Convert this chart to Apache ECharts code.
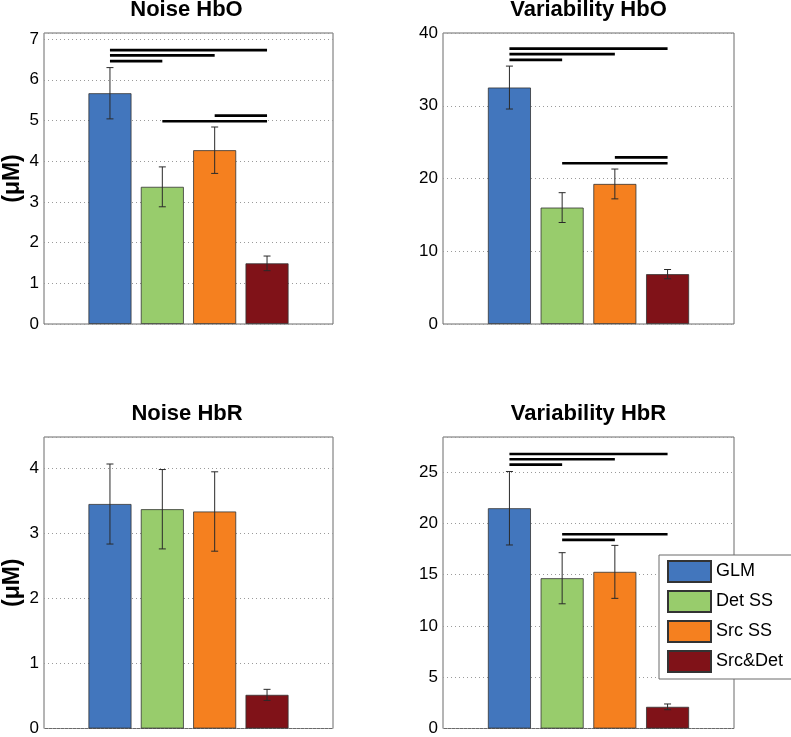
<!DOCTYPE html>
<html>
<head>
<meta charset="utf-8">
<script src="https://cdn.jsdelivr.net/npm/echarts@6/dist/echarts.min.js"></script>
<style>
  html, body { margin: 0; padding: 0; background: #fff; }
  #chart { width: 791px; height: 737px; }
</style>
</head>
<body>
<div id="chart"></div>
<script>
// data
const categories = ["GLM", "Det SS", "Src SS", "Src&Det"];
const colors = ["#4276bd", "#98cc6c", "#f5801f", "#801218"];

const noiseHbO = [5.67, 3.37, 4.27, 1.49];
const noiseHbOErr = [0.63, 0.49, 0.57, 0.18];
const noiseHbOSig = [[1, 4, 6.73], [1, 3, 6.60], [1, 2, 6.46], [3, 4, 5.12], [2, 4, 4.98]];

const varHbO = [32.5, 16.0, 19.25, 6.85];
const varHbOErr = [2.95, 2.05, 2.05, 0.64];
const varHbOSig = [[1, 4, 37.85], [1, 3, 37.1], [1, 2, 36.3], [3, 4, 22.9], [2, 4, 22.1]];

const noiseHbR = [3.45, 3.37, 3.335, 0.517];
const noiseHbRErr = [0.615, 0.61, 0.61, 0.085];
const noiseHbRSig = [];

const varHbR = [21.46, 14.64, 15.26, 2.11];
const varHbRErr = [3.58, 2.49, 2.58, 0.28];
const varHbRSig = [[1, 4, 26.75], [1, 3, 26.23], [1, 2, 25.71], [2, 4, 18.93], [2, 3, 18.38]];

const font = "'Liberation Sans', Arial, Helvetica, sans-serif";

const panels = [
  { title: "Noise HbO", values: noiseHbO, err: noiseHbOErr, sig: noiseHbOSig, max: 7.15, step: 1, unit: true,
    grid: { left: 40, top: 33, width: 293, height: 291 }, titleTop: -1 },
  { title: "Variability HbO", values: varHbO, err: varHbOErr, sig: varHbOSig, max: 40, step: 10, unit: false,
    grid: { left: 443, top: 33, width: 291, height: 291 }, titleTop: -1 },
  { title: "Noise HbR", values: noiseHbR, err: noiseHbRErr, sig: noiseHbRSig, max: 4.48, step: 1, unit: true,
    grid: { left: 41, top: 437, width: 292, height: 292 }, titleTop: 403 },
  { title: "Variability HbR", values: varHbR, err: varHbRErr, sig: varHbRSig, max: 28.4, step: 5, unit: false,
    grid: { left: 443, top: 437, width: 291, height: 292 }, titleTop: 403 }
];

const chart = echarts.init(document.getElementById("chart"));

const grids = [], xAxes = [], yAxes = [], titles = [], series = [];

panels.forEach((p, i) => {
  grids.push(Object.assign({ show: true, borderColor: "#6a6a6a", borderWidth: 1, backgroundColor: "#fff" }, p.grid));
  titles.push({
    text: p.title,
    left: p.grid.left + p.grid.width / 2,
    top: p.titleTop,
    textAlign: "center",
    padding: 0,
    textStyle: { fontFamily: font, fontSize: 22, fontWeight: "bold", color: "#000" }
  });
  xAxes.push({
    type: "value", gridIndex: i, min: -0.26, max: 5.26,
    axisLine: { show: false }, axisTick: { show: false }, axisLabel: { show: false }, splitLine: { show: false }
  });
  yAxes.push({
    type: "value", gridIndex: i, min: 0, max: p.max, interval: p.step,
    name: p.unit ? "(\u03bcM)" : "",
    nameLocation: "middle", nameRotate: 90, nameGap: 20,
    nameTextStyle: { fontFamily: font, fontSize: 23, fontWeight: "bold", color: "#000" },
    axisLine: { show: false }, axisTick: { show: false },
    axisLabel: {
      fontFamily: font, fontSize: 17, color: "#000", margin: 5,
      formatter: v => Math.abs(v / p.step - Math.round(v / p.step)) < 1e-6 ? String(v) : ""
    },
    splitLine: { show: true, lineStyle: { color: "#9a9a9a", type: [1, 3], width: 1 } }
  });

  categories.forEach((c, k) => {
    series.push({
      type: "bar", name: c, xAxisIndex: i, yAxisIndex: i,
      data: [[k + 1, p.values[k]]],
      barWidth: 43, barGap: "-100%",
      itemStyle: { color: colors[k], borderColor: "#333", borderWidth: 0.8 },
      silent: true
    });
  });

  series.push({
    type: "custom", xAxisIndex: i, yAxisIndex: i, silent: true, z: 5,
    data: p.values.map((v, k) => [k + 1, v - p.err[k], v + p.err[k]]),
    encode: { x: 0, y: [1, 2] },
    renderItem: (params, api) => {
      const x = api.value(0);
      const top = api.coord([x, api.value(2)]);
      const bot = api.coord([x, api.value(1)]);
      const st = { stroke: "#2a2a2a", lineWidth: 1 };
      return {
        type: "group", children: [
          { type: "line", shape: { x1: top[0], y1: top[1], x2: bot[0], y2: bot[1] }, style: st },
          { type: "line", shape: { x1: top[0] - 3.5, y1: top[1], x2: top[0] + 3.5, y2: top[1] }, style: st },
          { type: "line", shape: { x1: bot[0] - 3.5, y1: bot[1], x2: bot[0] + 3.5, y2: bot[1] }, style: st }
        ]
      };
    }
  });

  if (p.sig.length) {
    series.push({
      type: "custom", xAxisIndex: i, yAxisIndex: i, silent: true, z: 6,
      data: p.sig,
      encode: { x: [0, 1], y: 2 },
      renderItem: (params, api) => {
        const a = api.coord([api.value(0), api.value(2)]);
        const b = api.coord([api.value(1), api.value(2)]);
        return { type: "line", shape: { x1: a[0], y1: a[1], x2: b[0], y2: b[1] }, style: { stroke: "#000", lineWidth: 2.6 } };
      }
    });
  }
});

chart.setOption({
  backgroundColor: "#fff",
  animation: false,
  title: titles,
  grid: grids,
  xAxis: xAxes,
  yAxis: yAxes,
  legend: {
    data: categories,
    orient: "vertical",
    left: 659, top: 555,
    itemWidth: 43, itemHeight: 21, itemGap: 7,
    padding: [5, 10, 6, 8],
    backgroundColor: "#fff",
    borderColor: "#6a6a6a", borderWidth: 1,
    borderRadius: 0,
    icon: "rect",
    selectedMode: false,
    z: 10,
    textStyle: { fontFamily: font, fontSize: 18, color: "#000" }
  },
  series: series
});
</script>
</body>
</html>
